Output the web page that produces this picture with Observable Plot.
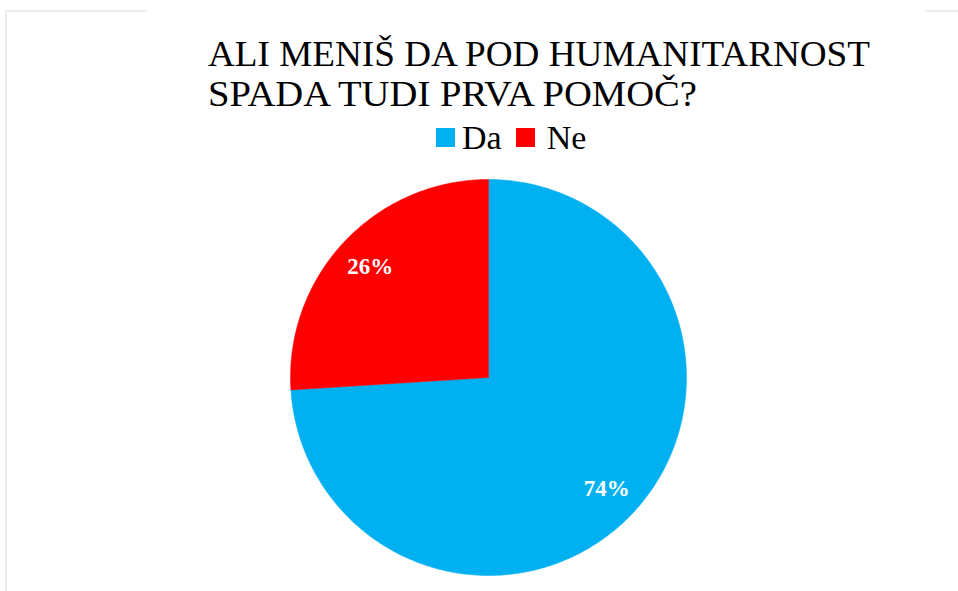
<!DOCTYPE html>
<html><head><meta charset="utf-8">
<script src="https://cdn.jsdelivr.net/npm/d3@7"></script>
<script src="https://cdn.jsdelivr.net/npm/@observablehq/plot@0.6"></script>
<style>
body{margin:0;background:#fff;}
#wrap{position:relative;width:958px;height:591px;overflow:hidden;background:#fff;font-family:"Liberation Serif","Times New Roman",serif;color:#000;}
.bl{position:absolute;background:#ececec;}
#title{position:absolute;left:208px;top:34px;font-size:36px;line-height:40px;white-space:nowrap;}
#title div{width:max-content;transform-origin:0 0;}
#legend{position:absolute;left:436px;top:121px;height:33px;display:flex;align-items:center;font-size:34px;line-height:33px;white-space:nowrap;}
#legend .sw{width:19px;height:19px;display:inline-block;}
#chart{position:absolute;left:287.5px;top:177px;}
</style></head><body>
<div id="wrap">
 <div class="bl" style="left:5px;top:10px;width:2px;height:581px"></div>
 <div class="bl" style="left:5px;top:10px;width:142px;height:2px"></div>
 <div class="bl" style="left:925px;top:10px;width:33px;height:2px"></div>
 <div id="title"></div>
 <div id="legend"></div>
 <div id="chart"></div>
</div>
<script>
const categories = ["Da", "Ne"];
const values = [74, 26];
const colors = ["#00B0F0", "#FF0000"];
const titleLines = ["ALI MENIŠ DA POD HUMANITARNOST", "SPADA TUDI PRVA POMOČ?"];
const titleLineWidths = [662, 489]; // rendered widths of the title lines in the reference

// title
const t = document.getElementById("title");
titleLines.forEach((l, i) => {
  const d = document.createElement("div");
  d.textContent = l;
  t.appendChild(d);
  const w = d.getBoundingClientRect().width;
  d.style.transform = `scaleX(${titleLineWidths[i] / w})`;
});

// legend
const lg = document.getElementById("legend");
categories.forEach((c, i) => {
  const sw = document.createElement("span");
  sw.className = "sw"; sw.style.background = colors[i];
  sw.style.marginLeft = i === 0 ? "0px" : "14px";
  sw.style.marginRight = i === 0 ? "7px" : "12px";
  const tx = document.createElement("span");
  tx.textContent = c;
  lg.appendChild(sw); lg.appendChild(tx);
});

// pie geometry from data
const pie = d3.pie().sort(null).value(d => d.value).startAngle(0).endAngle(2 * Math.PI);
const arcs = pie(categories.map((c, i) => ({name: c, value: values[i]})));
const pts = [];
arcs.forEach(a => {
  pts.push({name: a.data.name, x: 0, y: 0});
  const n = Math.max(8, Math.ceil((a.endAngle - a.startAngle) / (Math.PI / 180)));
  for (let k = 0; k <= n; k++) {
    const ang = a.startAngle + (a.endAngle - a.startAngle) * k / n;
    pts.push({name: a.data.name, x: Math.sin(ang), y: Math.cos(ang)});
  }
  pts.push({name: a.data.name, x: 0, y: 0});
});
const labels = arcs.map(a => {
  const m = (a.startAngle + a.endAngle) / 2;
  return {name: a.data.name, label: a.data.value + "%", x: 0.82 * Math.sin(m), y: 0.82 * Math.cos(m)};
});

const R = 200 / 198;
const chart = Plot.plot({
  width: 400, height: 400,
  margin: 0,
  x: {domain: [-R, R], axis: null},
  y: {domain: [-R, R], axis: null},
  color: {domain: categories, range: colors},
  marks: [
    Plot.line(pts, {x: "x", y: "y", z: "name", fill: "name", stroke: "name", strokeWidth: 0.5}),
    Plot.text(labels, {x: "x", y: "y", text: "label", fill: "white", fontSize: 23, fontWeight: "bold", fontFamily: "Liberation Serif, serif"})
  ]
});
document.getElementById("chart").appendChild(chart);
</script>
</body></html>
